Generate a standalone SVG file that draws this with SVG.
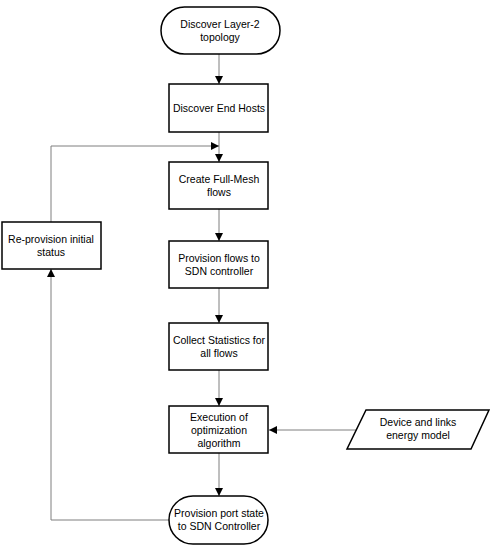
<svg xmlns="http://www.w3.org/2000/svg" width="495" height="550" viewBox="0 0 495 550">
<style>
.n{fill:#fff;stroke:#000;stroke-width:1.5}
.t{font-family:"Liberation Sans",Arial,sans-serif;font-size:10.5px;fill:#000;text-anchor:middle}
.c{fill:none;stroke:#7f7f7f;stroke-width:1}
</style>
<defs>
<marker id="a" viewBox="0 0 10 10" refX="10" refY="5" markerWidth="8" markerHeight="8" markerUnits="userSpaceOnUse" orient="auto">
<path d="M0,0L10,5L0,10z" fill="#000"/>
</marker>
</defs>
<rect width="495" height="550" fill="#fff"/>
<g id="connectors">
<line class="c" x1="219" y1="54" x2="219" y2="84" marker-end="url(#a)"/>
<line class="c" x1="219" y1="132" x2="219" y2="162" marker-end="url(#a)"/>
<polyline class="c" points="51,222 51,146 219,146" marker-end="url(#a)"/>
<line class="c" x1="219" y1="209" x2="219" y2="241" marker-end="url(#a)"/>
<line class="c" x1="219" y1="288" x2="219" y2="323" marker-end="url(#a)"/>
<line class="c" x1="219" y1="370" x2="219" y2="406" marker-end="url(#a)"/>
<line class="c" x1="357" y1="430" x2="269" y2="430" marker-end="url(#a)"/>
<line class="c" x1="219" y1="453" x2="219" y2="496" marker-end="url(#a)"/>
<polyline class="c" points="169,520 51,520 51,269" marker-end="url(#a)"/>
</g>
<g id="n1"><rect class="n" x="161" y="7" width="119" height="47" rx="23.5"/><text class="t" x="220" y="28">Discover Layer-2</text><text class="t" x="220" y="41">topology</text></g>
<g id="n2"><rect class="n" x="169" y="84" width="99" height="48"/><text class="t" x="219" y="112">Discover End Hosts</text></g>
<g id="n3"><rect class="n" x="169" y="162" width="99" height="47"/><text class="t" x="219" y="183">Create Full-Mesh</text><text class="t" x="219" y="196">flows</text></g>
<g id="n4"><rect class="n" x="169" y="241" width="99" height="47"/><text class="t" x="219" y="262">Provision flows to</text><text class="t" x="219" y="275">SDN controller</text></g>
<g id="n5"><rect class="n" x="169" y="323" width="99" height="47"/><text class="t" x="219" y="344">Collect Statistics for</text><text class="t" x="219" y="357">all flows</text></g>
<g id="n6"><rect class="n" x="169" y="406" width="99" height="47"/><text class="t" x="219" y="421">Execution of</text><text class="t" x="219" y="434">optimization</text><text class="t" x="219" y="447">algorithm</text></g>
<g id="n7"><rect class="n" x="169" y="496" width="99" height="48" rx="24"/><text class="t" x="219" y="517">Provision port state</text><text class="t" x="219" y="530">to SDN Controller</text></g>
<g id="n8"><rect class="n" x="2" y="222" width="99" height="47"/><text class="t" x="51" y="243">Re-provision initial</text><text class="t" x="51" y="256">status</text></g>
<g id="n9"><polygon class="n" points="366,410 489,410 471,449 347,449"/><text class="t" x="418" y="426">Device and links</text><text class="t" x="418" y="439">energy model</text></g>
</svg>
